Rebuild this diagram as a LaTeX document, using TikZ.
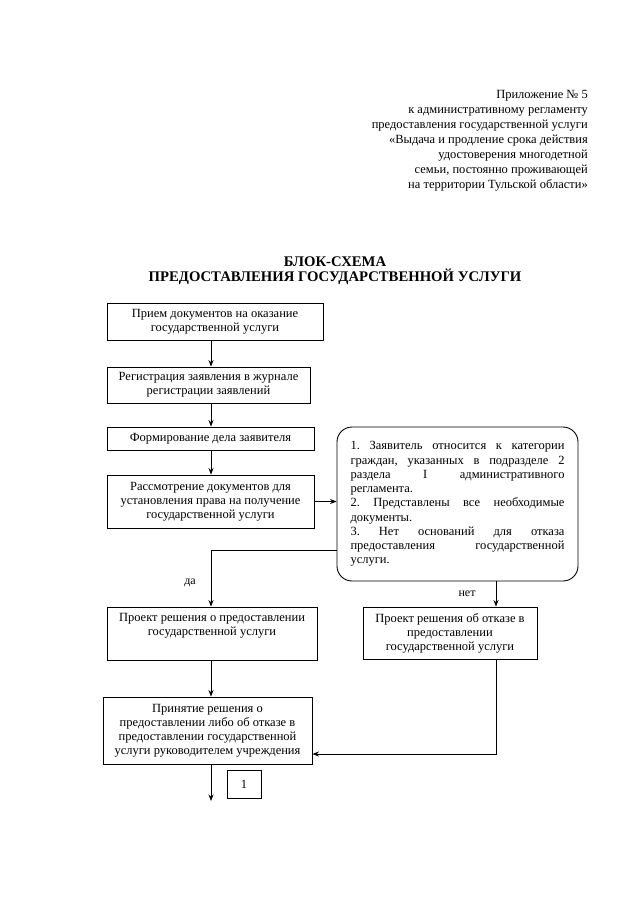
\documentclass[tikz,border=0pt]{standalone}
\usepackage{fontspec}
\setmainfont{Liberation Serif}
\usetikzlibrary{arrows.meta}
\begin{document}
\begin{tikzpicture}[x=1pt,y=-1pt,
  box/.style={draw,line width=0.9pt,align=center,inner sep=0pt,font=\fontsize{12.5}{14}\selectfont},
  arr/.style={line width=0.9pt,-{Stealth[length=6.5pt,width=5pt]}},
  lbl/.style={font=\fontsize{12}{14}\selectfont,inner sep=0pt}]
\useasboundingbox (0,0) rectangle (639,903);
\fill[white] (0,0) rectangle (639,903);

\node[anchor=north east,align=right,inner sep=0pt,font=\fontsize{12.5}{15}\selectfont] (hdr) at (588,90)
 {Приложение № 5\\к административному регламенту\\предоставления государственной услуги\\«Выдача и продление срока действия\\удостоверения многодетной\\семьи, постоянно проживающей\\на территории Тульской области»};

\node[align=center,inner sep=0pt,font=\bfseries\fontsize{14.7}{15}\selectfont] (title) at (335,271)
 {БЛОК-СХЕМА\\ПРЕДОСТАВЛЕНИЯ ГОСУДАРСТВЕННОЙ УСЛУГИ};

\node[box,minimum width=216pt,minimum height=37pt] (b1) at (215,321.5) {Прием документов на оказание\\государственной услуги};
\node[box,minimum width=203pt,minimum height=36pt] (b2) at (208.5,385) {Регистрация заявления в журнале\\регистрации заявлений};
\node[box,minimum width=207pt,minimum height=23pt] (b3) at (210.5,438.5) {Формирование дела заявителя};
\node[box,minimum width=207pt,minimum height=53pt] (b4) at (210.5,501.5) {Рассмотрение документов для\\установления права на получение\\государственной услуги};
\node[draw,line width=0.9pt,rounded corners=15pt,minimum width=241pt,minimum height=154pt,text width=214pt,align=left,inner sep=0pt,font=\fontsize{12.5}{14.25}\selectfont] (cond) at (457.5,504)
 {1.\hfill Заявитель\hfill относится\hfill к\hfill категории\\
  граждан,\hfill указанных\hfill в\hfill подразделе\hfill 2\\
  раздела\hfill I\hfill административного\\
  регламента.\\
  2.\hfill Представлены\hfill все\hfill необходимые\\
  документы.\\
  3.\hfill Нет\hfill оснований\hfill для\hfill отказа\\
  предоставления\hfill государственной\\
  услуги.\\[3pt]};
\node[box,minimum width=210pt,minimum height=53pt] (b5) at (212,633.5) {Проект решения о предоставлении\\государственной услуги\\\strut};
\node[box,minimum width=174pt,minimum height=52pt] (b6) at (450,633) {Проект решения об отказе в\\предоставлении\\государственной услуги};
\node[box,minimum width=209pt,minimum height=67pt] (b7) at (207.5,730.5) {Принятие решения о\\предоставлении либо об отказе в\\предоставлении государственной\\услуги руководителем учреждения};
\node[box,minimum width=34pt,minimum height=28pt] (n1) at (244,784) {1};

\node[lbl] (da) at (190,583) {да};
\node[lbl] (net) at (467,594) {нет};

\coordinate (ax) at (211,0);
\coordinate (dy) at (0,550);
\coordinate (nx) at (496,0);
\coordinate (jy) at (0,754);
\coordinate (end) at (211,801);

\draw[arr] (b1.south -| ax) -- (b2.north -| ax);
\draw[arr] (b2.south -| ax) -- (b3.north -| ax);
\draw[arr] (b3.south -| ax) -- (b4.north -| ax);
\draw[arr] (b4.east) -- (b4.east -| cond.west);
\draw[arr] (cond.west |- dy) -| (b5.north -| ax);
\draw[arr] (cond.south -| nx) -- (b6.north -| nx);
\draw[arr] (b5.south -| ax) -- (b7.north -| ax);
\draw[arr] (b6.south -| nx) |- (b7.east |- jy);
\draw[arr] (b7.south -| ax) -- (end);
\end{tikzpicture}
\end{document}
